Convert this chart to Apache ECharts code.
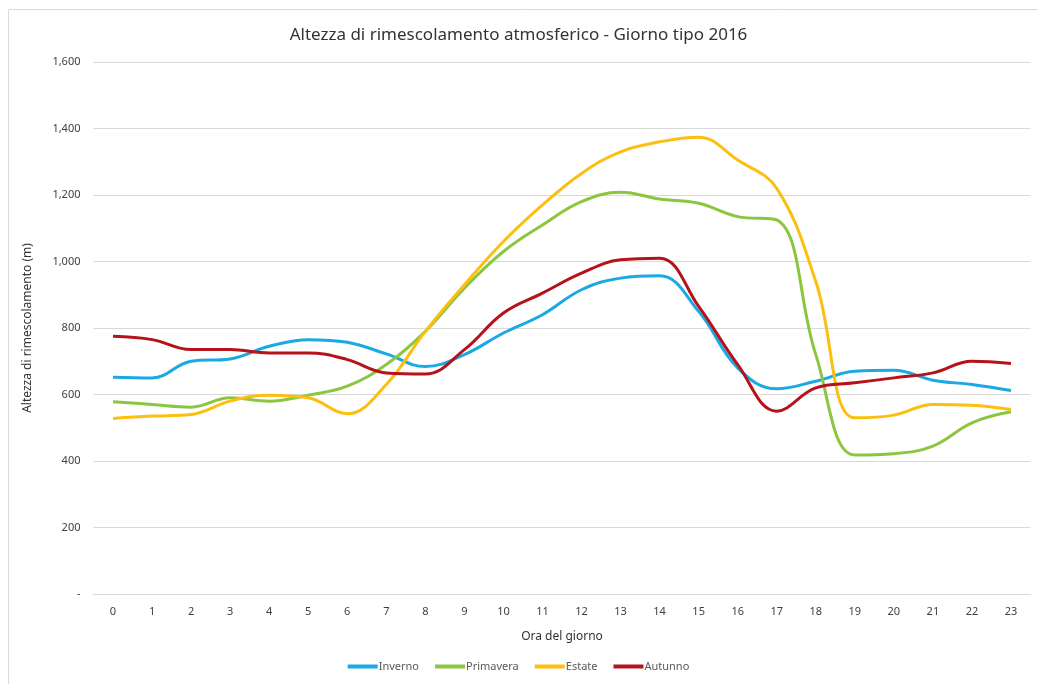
<!DOCTYPE html>
<html>
<head>
<meta charset="utf-8">
<script src="https://cdn.jsdelivr.net/npm/echarts@6/dist/echarts.min.js"></script>
<style>
  html, body { margin: 0; padding: 0; background: #fff; }
  #chart { width: 1037px; height: 684px; }
</style>
</head>
<body>
<div id="chart"></div>
<script>
// ore del giorno
var hours = ['0','1','2','3','4','5','6','7','8','9','10','11','12','13','14','15','16','17','18','19','20','21','22','23'];

// altezza di rimescolamento (m)
var inverno   = [652, 650, 700, 707, 745, 765, 757, 722, 684, 720, 785, 840, 915, 950, 957, 850, 680, 617, 640, 670, 673, 643, 630, 612];
var primavera = [578, 570, 562, 590, 580, 598, 625, 690, 790, 920, 1030, 1110, 1180, 1208, 1188, 1175, 1135, 1125, 720, 418, 422, 445, 515, 548];
var estate    = [528, 535, 540, 580, 598, 590, 542, 630, 790, 930, 1060, 1170, 1265, 1330, 1360, 1374, 1305, 1220, 940, 530, 538, 570, 568, 555];
var autunno   = [775, 765, 735, 735, 725, 725, 705, 665, 662, 735, 845, 905, 965, 1005, 1010, 865, 690, 550, 620, 635, 650, 665, 700, 693];

var myChart = echarts.init(document.getElementById('chart'));
var font = '"Noto Sans", "Open Sans", sans-serif';

function serie(name, data, color) {
  return {
    name: name,
    type: 'line',
    smooth: 0.4,
    symbol: 'none',
    data: data,
    itemStyle: { color: color },
    lineStyle: { color: color, width: 3 }
  };
}

var option = {
  backgroundColor: '#fff',
  animation: false,
  textStyle: { fontFamily: font },
  graphic: [{
    type: 'rect',
    shape: { x: 8.5, y: 9.5, width: 1100, height: 800 },
    style: { fill: 'none', stroke: '#d9d9d9', lineWidth: 1 },
    silent: true
  }],
  title: {
    text: 'Altezza di rimescolamento atmosferico - Giorno tipo 2016',
    left: 'center',
    top: 22,
    textStyle: { fontFamily: font, fontSize: 17, fontWeight: 'normal', color: '#333' }
  },
  legend: {
    bottom: 7,
    left: 'center',
    icon: 'rect',
    itemWidth: 30,
    itemHeight: 4,
    itemGap: 16,
    textStyle: { fontFamily: font, fontSize: 11, color: '#595959', padding: [0, 0, 0, -4] },
    data: ['Inverno', 'Primavera', 'Estate', 'Autunno']
  },
  grid: {
    left: 93.5,
    right: 6.5,
    top: 62,
    bottom: 90,
    containLabel: false
  },
  xAxis: {
    type: 'category',
    data: hours,
    boundaryGap: true,
    name: 'Ora del giorno',
    nameLocation: 'middle',
    nameGap: 37,
    nameTextStyle: { fontFamily: font, fontSize: 12, color: '#333' },
    axisLine: { lineStyle: { color: '#d9d9d9' } },
    axisTick: { show: false },
    axisLabel: { fontFamily: font, fontSize: 11, color: '#404040', margin: 12 }
  },
  yAxis: {
    type: 'value',
    min: 0,
    max: 1600,
    interval: 200,
    name: 'Altezza di rimescolamento (m)',
    nameLocation: 'middle',
    nameGap: 60,
    nameTextStyle: { fontFamily: font, fontSize: 12, color: '#333' },
    axisLine: { show: false },
    axisTick: { show: false },
    splitLine: { lineStyle: { color: '#d9d9d9' } },
    axisLabel: {
      fontFamily: font,
      fontSize: 11,
      color: '#404040',
      margin: 13,
      formatter: function (v) {
        if (v === 0) return '-';
        return v.toLocaleString('en-US');
      }
    }
  },
  series: [
    serie('Inverno', inverno, '#1aa9e3'),
    serie('Primavera', primavera, '#8cc63e'),
    serie('Estate', estate, '#fdbf0f'),
    serie('Autunno', autunno, '#b5121b')
  ]
};

myChart.setOption(option);
</script>
</body>
</html>
